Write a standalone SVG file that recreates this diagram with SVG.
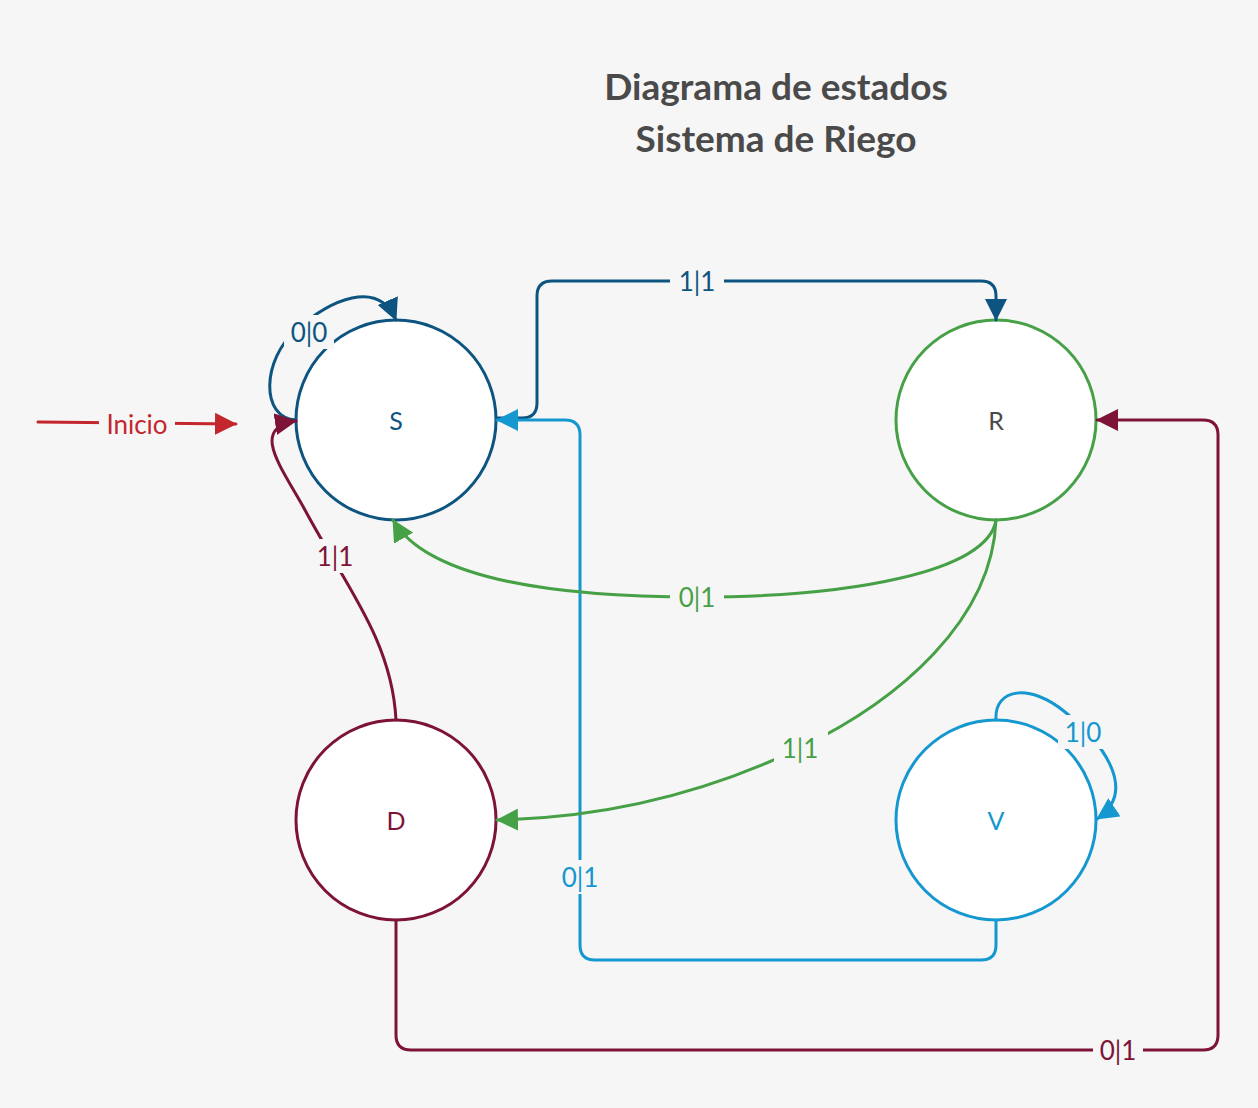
<svg xmlns="http://www.w3.org/2000/svg" width="1258" height="1108" viewBox="0 0 1258 1108">
<style>
.node{fill:#ffffff;stroke-width:3}
.conn{fill:none;stroke-width:3;stroke-linecap:round;stroke-linejoin:round}
.lbl{font-family:Lato,"Open Sans","Liberation Sans",sans-serif;font-size:26px;text-anchor:middle;dominant-baseline:central}
.nl{font-family:Lato,"Open Sans","Liberation Sans",sans-serif;font-size:25px;text-anchor:middle;dominant-baseline:central}
.bg{fill:#f6f6f6}
.title{font-family:Lato,"Open Sans","Liberation Sans",sans-serif;font-size:37px;font-weight:bold;fill:#4a4a4a;text-anchor:middle}
</style>
<defs>
<marker id="aDB" viewBox="0 0 22 22" refX="21" refY="11" markerWidth="22" markerHeight="22" markerUnits="userSpaceOnUse" orient="auto"><path d="M0,0 L22,11 L0,22 z" fill="#0d5580"/></marker>
<marker id="aLB" viewBox="0 0 22 22" refX="21" refY="11" markerWidth="22" markerHeight="22" markerUnits="userSpaceOnUse" orient="auto"><path d="M0,0 L22,11 L0,22 z" fill="#1597d0"/></marker>
<marker id="aG" viewBox="0 0 22 22" refX="21" refY="11" markerWidth="22" markerHeight="22" markerUnits="userSpaceOnUse" orient="auto"><path d="M0,0 L22,11 L0,22 z" fill="#46a046"/></marker>
<marker id="aM" viewBox="0 0 22 22" refX="21" refY="11" markerWidth="22" markerHeight="22" markerUnits="userSpaceOnUse" orient="auto"><path d="M0,0 L22,11 L0,22 z" fill="#7d1438"/></marker>
<marker id="aR" viewBox="0 0 22 22" refX="21" refY="11" markerWidth="22" markerHeight="22" markerUnits="userSpaceOnUse" orient="auto"><path d="M0,0 L22,11 L0,22 z" fill="#c4262e"/></marker>
</defs>
<rect x="0" y="0" width="1258" height="1108" fill="#f6f6f6"/>
<g id="title">
<text class="title" x="776" y="100">Diagrama de estados</text>
<text class="title" x="776" y="152">Sistema de Riego</text>
</g>
<g id="nodes">
<g id="node-S"><circle class="node" cx="396" cy="420" r="100" stroke="#0d5580"/><text class="nl" x="396" y="420" fill="#0d5580">S</text></g>
<g id="node-R"><circle class="node" cx="996" cy="420" r="100" stroke="#46a046"/><text class="nl" x="996" y="420" fill="#4a4a4a">R</text></g>
<g id="node-D"><circle class="node" cx="396" cy="820" r="100" stroke="#7d1438"/><text class="nl" x="396" y="820" fill="#7d1438">D</text></g>
<g id="node-V"><circle class="node" cx="996" cy="820" r="100" stroke="#1597d0"/><text class="nl" x="996" y="820" fill="#1597d0">V</text></g>
</g>
<g id="connectors">
<g id="c-inicio">
<path class="conn" d="M38,422 L236,424" stroke="#c4262e" stroke-width="3.5" marker-end="url(#aR)"/>
<rect class="bg" x="99" y="407" width="76" height="34"/>
<text class="lbl" x="137" y="424" fill="#c4262e">Inicio</text>
</g>
<g id="c-S-R">
<path class="conn" d="M497,418 L522,418 Q537,418 537,403 L537,296 Q537,281 552,281 L981,281 Q996,281 996,296 L996,320" stroke="#0d5580" marker-end="url(#aDB)"/>
<rect class="bg" x="670" y="264" width="54" height="34"/>
<text class="lbl" x="697" y="281" fill="#0d5580">1|1</text>
</g>
<g id="c-S-S">
<path class="conn" d="M296,420 C260,418 262,360 296,330 C330,300 378,278 396,320" stroke="#0d5580" marker-end="url(#aDB)"/>
<rect class="bg" x="284" y="315" width="50" height="34"/>
<text class="lbl" x="309" y="332" fill="#0d5580">0|0</text>
</g>
<g id="c-V-S">
<path class="conn" d="M996,920 L996,945 Q996,960 981,960 L595,960 Q580,960 580,945 L580,435 Q580,420 565,420 L497,420" stroke="#1597d0" marker-end="url(#aLB)"/>
<rect class="bg" x="555" y="860" width="50" height="34"/>
<text class="lbl" x="580" y="877" fill="#1597d0">0|1</text>
</g>
<g id="c-R-S">
<path class="conn" d="M996,520 C988,572 850,597 697,597 C540,597 425,575 393,520" stroke="#46a046" marker-end="url(#aG)"/>
<rect class="bg" x="670" y="580" width="54" height="34"/>
<text class="lbl" x="697" y="597" fill="#46a046">0|1</text>
</g>
<g id="c-R-D">
<path class="conn" d="M996,520 C992,620 900,700 800,748 C700,796 600,818 497,820" stroke="#46a046" marker-end="url(#aG)"/>
<rect class="bg" x="774" y="731" width="54" height="34"/>
<text class="lbl" x="800" y="748" fill="#46a046">1|1</text>
</g>
<g id="c-D-S">
<path class="conn" d="M396,720 C392,640 345,585 305,510 C280,465 250,428 296,421" stroke="#7d1438" marker-end="url(#aM)"/>
<rect class="bg" x="310" y="539" width="50" height="34"/>
<text class="lbl" x="335" y="556" fill="#7d1438">1|1</text>
</g>
<g id="c-D-R">
<path class="conn" d="M396,920 L396,1035 Q396,1050 411,1050 L1203,1050 Q1218,1050 1218,1035 L1218,435 Q1218,420 1203,420 L1097,420" stroke="#7d1438" marker-end="url(#aM)"/>
<rect class="bg" x="1093" y="1033" width="50" height="34"/>
<text class="lbl" x="1118" y="1050" fill="#7d1438">0|1</text>
</g>
<g id="c-V-V">
<path class="conn" d="M996,720 C994,688 1030,683 1065,712 C1100,740 1140,790 1097,819" stroke="#1597d0" marker-end="url(#aLB)"/>
<rect class="bg" x="1058" y="715" width="50" height="34"/>
<text class="lbl" x="1083" y="732" fill="#1597d0">1|0</text>
</g>
</g>
</svg>
